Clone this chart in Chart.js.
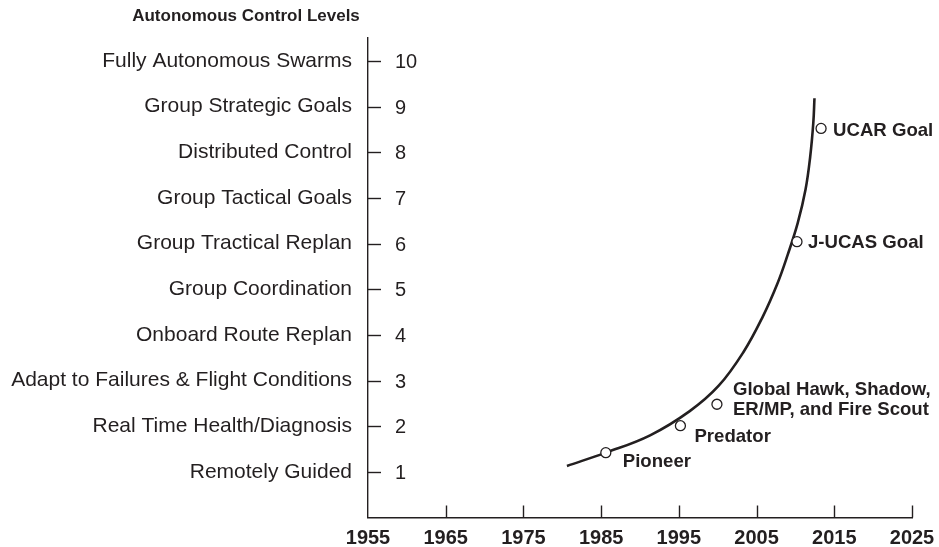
<!DOCTYPE html>
<html>
<head>
<meta charset="utf-8">
<script src="https://cdn.jsdelivr.net/npm/chart.js@4/dist/chart.umd.min.js"></script>
<style>
  html, body { margin: 0; padding: 0; background: #fff; }
  #wrap { width: 939px; height: 547px; position: relative; }
</style>
</head>
<body>
<div id="wrap"><canvas id="acl"></canvas></div>
<script>
// ── Data ────────────────────────────────────────────────────────────────
const levelTicks = [1, 2, 3, 4, 5, 6, 7, 8, 9, 10];
const levelNames = [
  'Remotely Guided',
  'Real Time Health/Diagnosis',
  'Adapt to Failures & Flight Conditions',
  'Onboard Route Replan',
  'Group Coordination',
  'Group Tractical Replan',
  'Group Tactical Goals',
  'Distributed Control',
  'Group Strategic Goals',
  'Fully Autonomous Swarms'
];
const yearTicks = [1955, 1965, 1975, 1985, 1995, 2005, 2015, 2025];

// trend curve
const curveYears  = [1980.6, 1985.6, 1991.3, 1996.4, 2000.1, 2003.3, 2005.8, 2007.7, 2009.0, 2010.3, 2011.3, 2011.9, 2012.3, 2012.45];
const curveLevels = [1.13,   1.42,   1.80,   2.33,   2.88,   3.62,   4.40,   5.13,   5.75,   6.45,   7.18,   7.90,   8.64,   9.18];

// fielded systems and goals
const systemNames  = [['Pioneer'], ['Predator'], ['Global Hawk, Shadow,', 'ER/MP, and Fire Scout'], ['J-UCAS Goal'], ['UCAR Goal']];
const systemYears  = [1985.6, 1995.2, 1999.9, 2010.2, 2013.3];
const systemLevels = [1.42,   2.01,   2.48,   6.04,   8.52];

const chartTitle = 'Autonomous Control Levels';

// ── Styles ──────────────────────────────────────────────────────────────
const INK = '#231f20';
const FONT = '"Liberation Sans", Arial, Helvetica, sans-serif';
const labelOffsets = [[17, 9], [14, 11], [16, -14], [11, 1], [12, 2]];

const marksPlugin = {
  id: 'marks',
  afterDraw(chart) {
    const { ctx, chartArea: area, scales: { x, y } } = chart;
    ctx.save();
    ctx.strokeStyle = INK;
    ctx.lineWidth = 1.4;

    // inner tick marks on the level axis, numbers beside them
    ctx.fillStyle = INK;
    ctx.font = '20px ' + FONT;
    ctx.textAlign = 'left';
    ctx.textBaseline = 'middle';
    levelTicks.forEach(v => {
      const py = Math.round(y.getPixelForValue(v)) + 0.5;
      ctx.beginPath();
      ctx.moveTo(area.left, py);
      ctx.lineTo(area.left + 13, py);
      ctx.stroke();
      ctx.fillText(String(v), area.left + 27, py + 1);
    });

    // upward tick marks on the year axis
    yearTicks.slice(1).forEach(v => {
      const px = Math.round(x.getPixelForValue(v)) + 0.5;
      ctx.beginPath();
      ctx.moveTo(px, area.bottom);
      ctx.lineTo(px, area.bottom - 12);
      ctx.stroke();
    });

    // system labels
    ctx.font = 'bold 18.6px ' + FONT;
    systemNames.forEach((lines, i) => {
      const px = x.getPixelForValue(systemYears[i]);
      const py = y.getPixelForValue(systemLevels[i]);
      const [dx, dy] = labelOffsets[i];
      lines.forEach((t, j) => ctx.fillText(t, px + dx, py + dy + j * 20));
    });

    // heading
    ctx.font = 'bold 17px ' + FONT;
    ctx.textAlign = 'center';
    ctx.fillText(chartTitle, 246, 16);
    ctx.restore();
  }
};

new Chart(document.getElementById('acl'), {
  data: {
    datasets: [
      {
        type: 'scatter',
        data: systemYears.map((yr, i) => ({ x: yr, y: systemLevels[i] })),
        pointRadius: 5,
        pointBackgroundColor: '#fff',
        pointBorderColor: INK,
        pointBorderWidth: 1.3,
        showLine: false,
        order: 0
      },
      {
        type: 'line',
        data: curveYears.map((yr, i) => ({ x: yr, y: curveLevels[i] })),
        borderColor: INK,
        borderWidth: 2.6,
        pointRadius: 0,
        tension: 0.4,
        fill: false,
        order: 1
      }
    ]
  },
  options: {
    responsive: true,
    maintainAspectRatio: false,
    animation: false,
    layout: { padding: { left: 6, top: 38, right: 27, bottom: 0 } },
    plugins: { legend: { display: false }, tooltip: { enabled: false } },
    scales: {
      x: {
        type: 'linear',
        min: 1955, max: 2025,
        afterBuildTicks: s => { s.ticks = yearTicks.map(v => ({ value: v })); },
        afterFit: s => { s.height = 29.5; },
        grid: { display: false },
        border: { display: true, color: INK, width: 1.4 },
        ticks: {
          color: INK, padding: 1, maxRotation: 0,
          font: { family: FONT, size: 20, weight: 'bold' },
          callback: v => String(v)
        }
      },
      y: {
        type: 'linear',
        min: 0, max: 10.5,
        afterBuildTicks: s => { s.ticks = levelTicks.map(v => ({ value: v })); },
        afterFit: s => { s.width = 362; },
        grid: { display: false },
        border: { display: true, color: INK, width: 1.4 },
        ticks: {
          color: INK, padding: 8,
          font: { family: FONT, size: 21 },
          callback: v => levelNames[v - 1] || ''
        }
      }
    }
  },
  plugins: [marksPlugin]
});
</script>
</body>
</html>
